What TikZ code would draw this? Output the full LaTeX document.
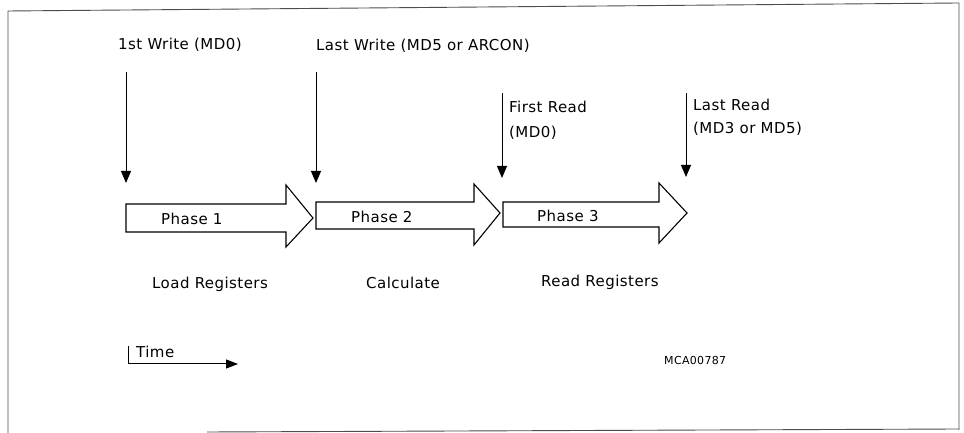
\documentclass[tikz,border=0pt]{standalone}
\usepackage{fontspec}
\setmainfont{DejaVu Sans}[LetterSpace=3]
\usetikzlibrary{arrows.meta}
\begin{document}
\begin{tikzpicture}[x=1pt,y=1pt,
  lbl/.style={anchor=west,inner sep=0pt,font=\fontsize{15}{18}\selectfont},
  small/.style={anchor=west,inner sep=0pt,font=\fontsize{11}{13}\selectfont},
  phasebox/.style={draw=black,line width=1.1pt,fill=white,line join=miter},
  event/.style={line width=1pt,-{Triangle[length=12pt,width=10pt]}},
  frame/.style={line width=0.9pt,draw=black!70}]
\useasboundingbox (0,0) rectangle (964,433);
% frame (y measured from top: Y = 433 - y)
\draw[frame] (8,0) -- (8,422) -- (959,430) -- (959,3);
\draw[frame] (207,1) -- (959,4);
% big phase arrows
\draw[phasebox] (126,229) -- (286,229) -- (286,248) -- (313,215) -- (286,186) -- (286,201) -- (126,201) -- cycle;
\draw[phasebox] (316,231) -- (474,231) -- (474,249) -- (500,220) -- (474,188) -- (474,204) -- (316,204) -- cycle;
\draw[phasebox] (503,231) -- (659,231) -- (659,250) -- (687,220) -- (659,190) -- (659,206) -- (503,206) -- cycle;
% labels
\node[lbl] (w1) at (118,388) {1st Write (MD0)};
\node[lbl] (w2) at (316,387) {Last Write (MD5 or ARCON)};
\node[lbl] (r1) at (509,326) {First Read};
\node[lbl] (r1b) at (509,300) {(MD0)};
\node[lbl] (r2) at (693,328) {Last Read};
\node[lbl] (r2b) at (693,304) {(MD3 or MD5)};
\node[lbl] (p1) at (161,214) {Phase 1};
\node[lbl] (p2) at (351,216) {Phase 2};
\node[lbl] (p3) at (537,217) {Phase 3};
\node[lbl] (l1) at (152,149) {Load Registers};
\node[lbl] (l2) at (366,150) {Calculate};
\node[lbl] (l3) at (541,151) {Read Registers};
\node[lbl] (tm) at (136,81) {Time};
\node[small] (id) at (664,73) {MCA00787};
% event arrows
\coordinate (e1s) at (126,361); \coordinate (e1e) at (126,250);
\coordinate (e2s) at (316,361); \coordinate (e2e) at (316,250);
\coordinate (e3s) at (502,340); \coordinate (e3e) at (502,255);
\coordinate (e4s) at (686,340); \coordinate (e4e) at (686,256);
\draw[event] (e1s) -- (e1e);
\draw[event] (e2s) -- (e2e);
\draw[event] (e3s) -- (e3e);
\draw[event] (e4s) -- (e4e);
% time axis
\coordinate (ta) at (128,87); \coordinate (tb) at (128,69); \coordinate (tc) at (238,69);
\draw[line width=1pt,-{Triangle[length=12pt,width=9pt]}] (ta) -- (tb) -- (tc);
\end{tikzpicture}
\end{document}
